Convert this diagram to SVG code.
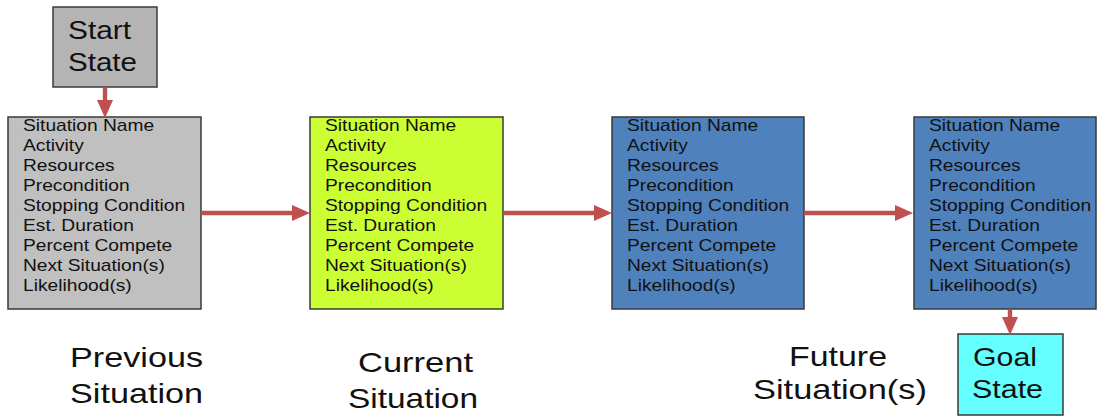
<svg xmlns="http://www.w3.org/2000/svg" width="1098" height="416" viewBox="0 0 1098 416">
  <style>
    .box { stroke: #3a3a3a; stroke-width: 1.5; }
    .field { font-family: "Liberation Sans", Arial, sans-serif; font-size: 16px; fill: #111; }
    .big { font-family: "Liberation Sans", Arial, sans-serif; font-size: 26px; fill: #111; }
    .label { font-family: "Liberation Sans", Arial, sans-serif; font-size: 28px; fill: #111; }
    .conn { stroke: #c0504d; stroke-width: 4.4; fill: none; }
  </style>
  <defs>
    <marker id="ah" markerUnits="userSpaceOnUse" markerWidth="18" markerHeight="16" refX="0" refY="8" orient="auto">
      <path d="M0,0 L18,8 L0,16 z" fill="#c0504d"/>
    </marker>
  </defs>
  <rect width="1098" height="416" fill="#ffffff"/>

  <g id="start-state">
    <rect class="box" x="53" y="7" width="104" height="80" fill="#b4b4b4"/>
    <text class="big" x="68" y="39" textLength="63" lengthAdjust="spacingAndGlyphs">Start</text>
    <text class="big" x="68" y="71" textLength="69" lengthAdjust="spacingAndGlyphs">State</text>
  </g>

  <g id="previous-situation">
    <rect class="box" x="8" y="117" width="193" height="192" fill="#c0c0c0"/>
    <g transform="translate(23,0) scale(1.2,1)">
      <text class="field" x="0" y="131.5">Situation Name</text>
      <text class="field" x="0" y="151.5">Activity</text>
      <text class="field" x="0" y="171.5">Resources</text>
      <text class="field" x="0" y="191.5">Precondition</text>
      <text class="field" x="0" y="211.5">Stopping Condition</text>
      <text class="field" x="0" y="231.5">Est. Duration</text>
      <text class="field" x="0" y="251.5">Percent Compete</text>
      <text class="field" x="0" y="271.5">Next Situation(s)</text>
      <text class="field" x="0" y="291.5">Likelihood(s)</text>
    </g>
  </g>

  <g id="current-situation">
    <rect class="box" x="310" y="117" width="193" height="192" fill="#ccff33"/>
    <g transform="translate(325,0) scale(1.2,1)">
      <text class="field" x="0" y="131.5">Situation Name</text>
      <text class="field" x="0" y="151.5">Activity</text>
      <text class="field" x="0" y="171.5">Resources</text>
      <text class="field" x="0" y="191.5">Precondition</text>
      <text class="field" x="0" y="211.5">Stopping Condition</text>
      <text class="field" x="0" y="231.5">Est. Duration</text>
      <text class="field" x="0" y="251.5">Percent Compete</text>
      <text class="field" x="0" y="271.5">Next Situation(s)</text>
      <text class="field" x="0" y="291.5">Likelihood(s)</text>
    </g>
  </g>

  <g id="future-situation-1">
    <rect class="box" x="612" y="117" width="192" height="192" fill="#4f81bd"/>
    <g transform="translate(627,0) scale(1.2,1)">
      <text class="field" x="0" y="131.5">Situation Name</text>
      <text class="field" x="0" y="151.5">Activity</text>
      <text class="field" x="0" y="171.5">Resources</text>
      <text class="field" x="0" y="191.5">Precondition</text>
      <text class="field" x="0" y="211.5">Stopping Condition</text>
      <text class="field" x="0" y="231.5">Est. Duration</text>
      <text class="field" x="0" y="251.5">Percent Compete</text>
      <text class="field" x="0" y="271.5">Next Situation(s)</text>
      <text class="field" x="0" y="291.5">Likelihood(s)</text>
    </g>
  </g>

  <g id="future-situation-2">
    <rect class="box" x="914" y="117" width="182" height="192" fill="#4f81bd"/>
    <g transform="translate(929,0) scale(1.2,1)">
      <text class="field" x="0" y="131.5">Situation Name</text>
      <text class="field" x="0" y="151.5">Activity</text>
      <text class="field" x="0" y="171.5">Resources</text>
      <text class="field" x="0" y="191.5">Precondition</text>
      <text class="field" x="0" y="211.5">Stopping Condition</text>
      <text class="field" x="0" y="231.5">Est. Duration</text>
      <text class="field" x="0" y="251.5">Percent Compete</text>
      <text class="field" x="0" y="271.5">Next Situation(s)</text>
      <text class="field" x="0" y="291.5">Likelihood(s)</text>
    </g>
  </g>

  <g id="goal-state">
    <rect class="box" x="958" y="334" width="105" height="81" fill="#66ffff"/>
    <text class="big" x="973" y="366" textLength="64" lengthAdjust="spacingAndGlyphs">Goal</text>
    <text class="big" x="972" y="398" textLength="71" lengthAdjust="spacingAndGlyphs">State</text>
  </g>

  <g id="labels">
    <text class="label" x="70" y="367" textLength="133" lengthAdjust="spacingAndGlyphs">Previous</text>
    <text class="label" x="70" y="403" textLength="133" lengthAdjust="spacingAndGlyphs">Situation</text>
    <text class="label" x="358" y="372" textLength="115" lengthAdjust="spacingAndGlyphs">Current</text>
    <text class="label" x="348" y="408" textLength="130" lengthAdjust="spacingAndGlyphs">Situation</text>
    <text class="label" x="789" y="366" textLength="98" lengthAdjust="spacingAndGlyphs">Future</text>
    <text class="label" x="753" y="399" textLength="174" lengthAdjust="spacingAndGlyphs">Situation(s)</text>
  </g>

  <g id="connectors">
    <line class="conn" x1="105" y1="88" x2="105" y2="100" marker-end="url(#ah)"/>
    <line class="conn" x1="201" y1="213" x2="292" y2="213" marker-end="url(#ah)"/>
    <line class="conn" x1="503" y1="213" x2="594" y2="213" marker-end="url(#ah)"/>
    <line class="conn" x1="804" y1="213" x2="895" y2="213" marker-end="url(#ah)"/>
    <line class="conn" x1="1010" y1="309" x2="1010" y2="317" marker-end="url(#ah)"/>
  </g>
</svg>
